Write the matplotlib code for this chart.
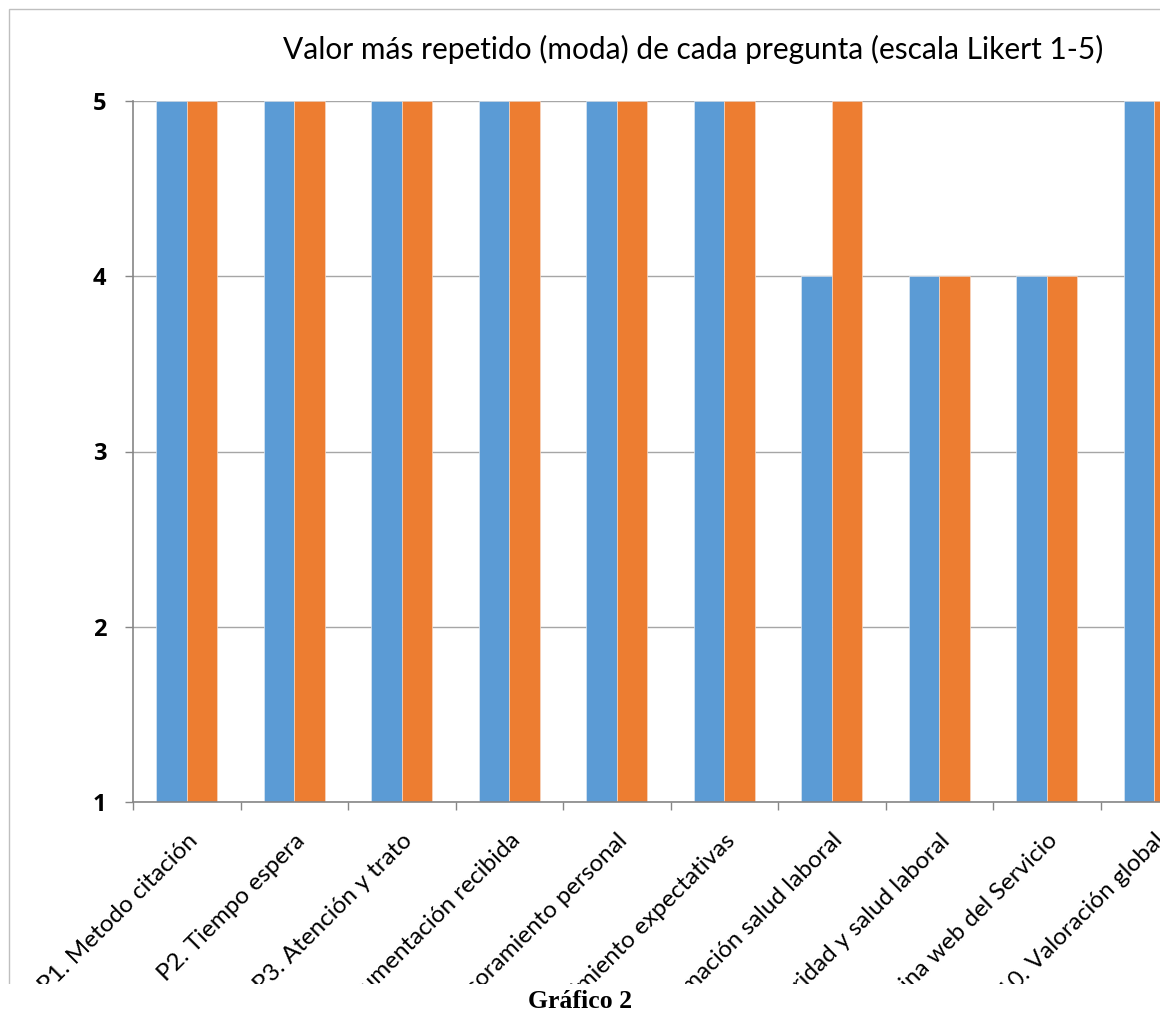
import matplotlib
matplotlib.use("Agg")
import matplotlib.pyplot as plt
from matplotlib.patches import Rectangle
import numpy as np

# data
preguntas = [
    "P1. Metodo citación",
    "P2. Tiempo espera",
    "P3. Atención y trato",
    "P4. Documentación recibida",
    "P5. Asesoramiento personal",
    "P6. Cumplimiento expectativas",
    "P7. Información salud laboral",
    "P8. Seguridad y salud laboral",
    "P9. Página web del Servicio",
    "P10. Valoración global",
]
serie_azul = [5, 5, 5, 5, 5, 5, 4, 4, 4, 5]
serie_naranja = [5, 5, 5, 5, 5, 5, 5, 4, 4, 5]
y_ticks = [1, 2, 3, 4, 5]

AZUL = "#5b9bd5"
NARANJA = "#ed7d31"
GRIS = "#a6a6a6"

plt.rcParams["font.family"] = ["Lato", "DejaVu Sans"]

W, H = 1169, 1014
fig = plt.figure(figsize=(W / 100, H / 100), dpi=100)

# plot area in pixels: x 133..1208, y 101..802
left, right, top, bottom = 133, 1208, 101, 802
ax = fig.add_axes([left / W, 1 - bottom / H, (right - left) / W, (bottom - top) / H])

x = np.arange(len(preguntas)) + 0.5
bw = 1 / 3.5
ax.bar(x - bw / 2, np.array(serie_azul) - 1, bw, bottom=1, color=AZUL,
       edgecolor="#dbe6f2", linewidth=0.5, zorder=3)
ax.bar(x + bw / 2, np.array(serie_naranja) - 1, bw, bottom=1, color=NARANJA,
       edgecolor="#f7d8c4", linewidth=0.5, zorder=3)

ax.set_xlim(0, len(preguntas))
ax.set_ylim(1, 5)

ax.set_yticks(y_ticks)
ax.set_yticklabels([str(v) for v in y_ticks], fontsize=17, fontweight="bold",
                   family=["Open Sans", "DejaVu Sans"])
ax.yaxis.grid(True, color=GRIS, linewidth=1, zorder=0)
ax.tick_params(axis="y", length=6, width=1, color="#868686", pad=13)

ax.set_xticks(np.arange(len(preguntas) + 1))
ax.set_xticklabels([])
ax.set_xticks(x, minor=True)
ax.set_xticklabels(preguntas, minor=True, rotation=45, ha="right",
                   rotation_mode="anchor", fontsize=17.5)
ax.tick_params(axis="x", which="major", length=6, width=1, color="#868686")
ax.tick_params(axis="x", which="minor", length=0, pad=20)

for s in ["top", "right"]:
    ax.spines[s].set_visible(False)
for s in ["left", "bottom"]:
    ax.spines[s].set_color("#868686")
    ax.spines[s].set_linewidth(1.2)
    ax.spines[s].set_zorder(4)

# chart border
fig.patches.append(Rectangle((9 / W, 0), 1.2, 1 - 9 / H, transform=fig.transFigure,
                             fill=False, edgecolor="#bfbfbf", linewidth=1, zorder=1))

fig.text(693 / W, 1 - 59 / H, "Valor más repetido (moda) de cada pregunta (escala Likert 1-5)",
         ha="center", va="baseline", fontsize=21.5)

# the screenshot is cropped on the right and bottom
fig.patches.append(Rectangle((1160 / W, 0), 1, 1, transform=fig.transFigure,
                             facecolor="white", edgecolor="none", zorder=10))
fig.patches.append(Rectangle((0, 0), 1, 1 - 984 / H, transform=fig.transFigure,
                             facecolor="white", edgecolor="none", zorder=10))

fig.text(580 / W, 1 - 1008 / H, "Gráfico 2", ha="center", va="baseline",
         fontsize=18.5, fontweight="bold", family=["Liberation Serif", "DejaVu Serif"],
         zorder=11)

fig.savefig("out.png", dpi=100, facecolor="white")
